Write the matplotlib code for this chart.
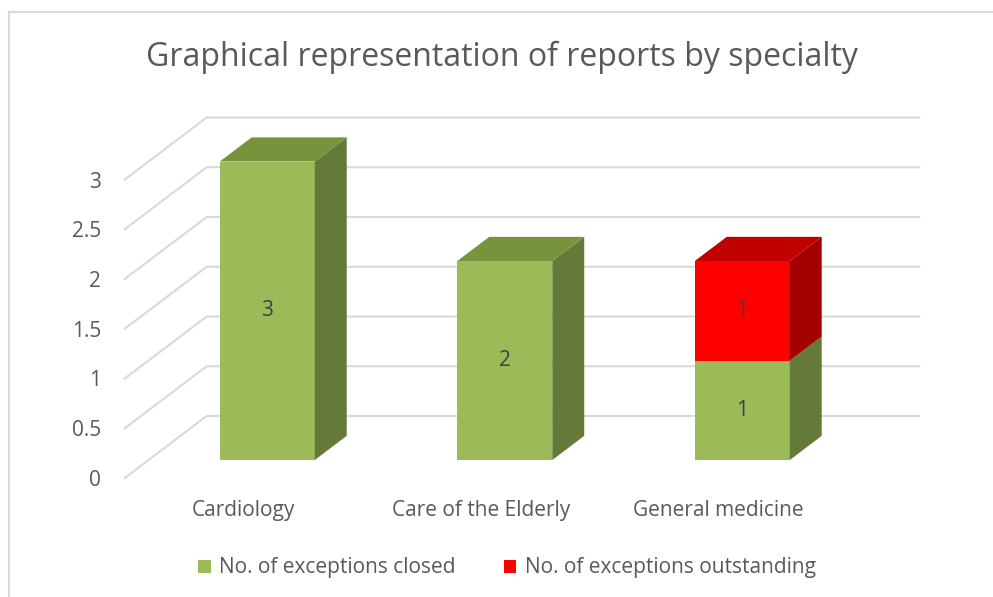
import numpy as np
import matplotlib
matplotlib.use("Agg")
from matplotlib import pyplot as plt
from matplotlib.patches import Polygon, Patch
from matplotlib.lines import Line2D

plt.rcParams['font.family'] = ['Open Sans', 'DejaVu Sans']

# data
specialties = ["Cardiology", "Care of the Elderly", "General medicine"]
closed = [3, 2, 1]
outstanding = [0, 0, 1]
series_names = ["No. of exceptions closed", "No. of exceptions outstanding"]
yticks = [0, 0.5, 1, 1.5, 2, 2.5, 3]

# colours (front, side, top)
green = ("#9BBB59", "#657A38", "#77933C")
red = ("#FF0000", "#A30000", "#C00000")
text_col = "#595959"
grid_col = "#D9D9D9"

# fake 3d: depth offset in data units for the full floor depth
DX = 0.345
DY = 0.623
d_front, d_back = 0.29, 0.68
width = 0.4

W, H = 993, 597
fig = plt.figure(figsize=(W / 100, H / 100), dpi=100)
# axes covers the front floor edge: x -0.5..2.5, y 0..3
left_px, right_px = 124.75, 837.25
bottom_px, top_px = 478, 179.5
ax = fig.add_axes([left_px / W, (H - bottom_px) / H,
                   (right_px - left_px) / W, (bottom_px - top_px) / H])
ax.set_xlim(-0.5, 2.5)
ax.set_ylim(0, 3)
for s in ax.spines.values():
    s.set_visible(False)
ax.set_yticks(yticks)
ax.set_yticklabels([f"{v:g}" for v in yticks])
ax.set_xticks(range(len(specialties)))
ax.set_xticklabels(specialties)
ax.tick_params(axis='y', length=0, pad=17, labelsize=15, labelcolor=text_col)
ax.tick_params(axis='x', length=0, pad=16, labelsize=15, labelcolor=text_col)

# back wall + left side gridlines
for v in yticks:
    ax.add_line(Line2D([-0.5, -0.5 + DX, 2.5 + DX], [v, v + DY, v + DY],
                       color=grid_col, lw=1.5, clip_on=False, zorder=1))

x = np.arange(len(specialties))
xf = x + d_front * DX
yf = d_front * DY
ddx = (d_back - d_front) * DX
ddy = (d_back - d_front) * DY


def draw_stack(vals, bottoms, cols):
    ax.bar(xf, vals, width=width, bottom=yf + np.array(bottoms), color=cols[0],
           clip_on=False, zorder=3)
    for xi, v, b in zip(xf, vals, bottoms):
        if v == 0:
            continue
        y0 = yf + b
        y1 = y0 + v
        xr = xi + width / 2
        xl = xi - width / 2
        side = [(xr, y0), (xr + ddx, y0 + ddy), (xr + ddx, y1 + ddy), (xr, y1)]
        ax.add_patch(Polygon(side, closed=True, facecolor=cols[1], edgecolor='none',
                             clip_on=False, zorder=3))
        top = [(xl, y1), (xr, y1), (xr + ddx, y1 + ddy), (xl + ddx, y1 + ddy)]
        ax.add_patch(Polygon(top, closed=True, facecolor=cols[2], edgecolor='none',
                             clip_on=False, zorder=3))
        ax.text(xi, y0 + v / 2, f"{v}", ha='center', va='center', fontsize=15,
                color="#404040", zorder=5)


draw_stack(closed, [0, 0, 0], green)
draw_stack(outstanding, closed, red)

fig.text(502 / W, 1 - 57 / H, "Graphical representation of reports by specialty",
         ha='center', va='center', fontsize=23, color=text_col)

handles = [Patch(facecolor=green[0]), Patch(facecolor=red[0])]
fig.legend(handles, series_names, loc='center', bbox_to_anchor=(507 / W, 1 - 568 / H),
           ncol=2, frameon=False, fontsize=15, handlelength=0.6, handleheight=0.6,
           handletextpad=0.4, columnspacing=2.3, labelcolor=text_col)

# chart border (top and left visible)
fig.add_artist(Line2D([8.5 / W, 1], [1 - 12 / H, 1 - 12 / H], color=grid_col, lw=1.5))
fig.add_artist(Line2D([8.5 / W, 8.5 / W], [0, 1 - 12 / H], color=grid_col, lw=1.5))

fig.savefig("out.png", dpi=100, facecolor='white')
